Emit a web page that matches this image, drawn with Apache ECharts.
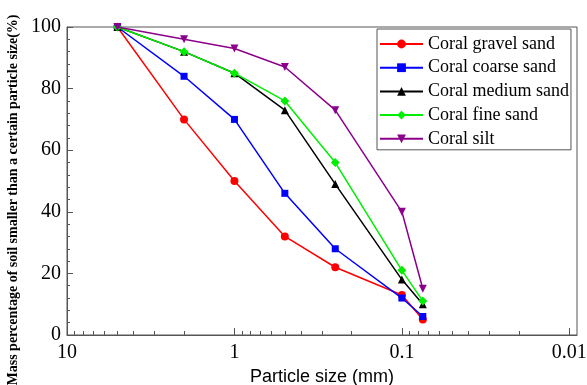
<!DOCTYPE html>
<html>
<head>
<meta charset="utf-8">
<script src="https://cdn.jsdelivr.net/npm/echarts@6/dist/echarts.min.js"></script>
<style>html,body{margin:0;padding:0;background:#fff;}#c{width:587px;height:385px;}</style>
</head>
<body>
<div id="c"></div>
<script>
const particleSizes = [5, 2, 1, 0.5, 0.25, 0.1, 0.075];
const gravelSand = [100, 70, 50, 32, 22, 13, 5];
const coarseSand = [100, 84, 70, 46, 28, 12, 6];
const mediumSand = [100, 92, 85, 73, 49, 18, 10];
const fineSand = [100, 92, 85, 76, 56, 21, 11];
const silt = [100, 96, 93, 87, 73, 40, 15];
const seriesNames = ['Coral gravel sand', 'Coral coarse sand', 'Coral medium sand', 'Coral fine sand', 'Coral silt'];
const xMajorTicks = [10, 1, 0.1, 0.01];
const xTickLabels = ['10', '1', '0.1', '0.01'];
const xMinorTicks = [9, 8, 7, 6, 5, 4, 3, 2, 0.9, 0.8, 0.7, 0.6, 0.5, 0.4, 0.3, 0.2, 0.09, 0.08, 0.07, 0.06, 0.05, 0.04, 0.03, 0.02];
const yTicks = [0, 20, 40, 60, 80, 100];

const serif = '"Liberation Serif", "Times New Roman", serif';
const pair = arr => particleSizes.map((s, i) => [s, arr[i]]);
const styles = [
  {color: '#ff0000', symbol: 'circle', size: 8, rot: 0},
  {color: '#0000ff', symbol: 'rect', size: 7, rot: 0},
  {color: '#000000', symbol: 'triangle', size: 8, rot: 0},
  {color: '#00ee00', symbol: 'diamond', size: 9, rot: 0},
  {color: '#8b008b', symbol: 'triangle', size: 8, rot: 180}
];
const allData = [gravelSand, coarseSand, mediumSand, fineSand, silt];

const chart = echarts.init(document.getElementById('c'), null, {renderer: 'canvas'});
chart.setOption({
  animation: false,
  backgroundColor: '#fff',
  grid: {left: 67, right: 10, top: 27, bottom: 50, show: true, borderColor: '#555', borderWidth: 1, backgroundColor: 'transparent', outerBoundsMode: 'none', containLabel: false},
  legend: {
    orient: 'vertical', left: 377, top: 29,
    padding: [6, 2, 2, 2], itemGap: 5.7, itemWidth: 43, itemHeight: 11,
    backgroundColor: '#fff', borderColor: '#555', borderWidth: 1,
    textStyle: {fontFamily: serif, fontSize: 18, color: '#000'},
    data: seriesNames
  },
  xAxis: [{
    type: 'log', logBase: 10, inverse: true, min: 0.009, max: 10,
    name: 'Particle size (mm)', nameLocation: 'middle', nameGap: 26,
    nameTextStyle: {fontFamily: '"Liberation Sans", Arial, sans-serif', fontSize: 18, color: '#000'},
    axisLine: {show: true, lineStyle: {color: '#555', width: 1}},
    axisTick: {show: true, inside: true, length: 7, customValues: xMajorTicks, lineStyle: {color: '#555'}},
    axisLabel: {show: true, customValues: xMajorTicks, fontFamily: serif, fontSize: 20, color: '#000', margin: 8,
      formatter: v => xTickLabels[xMajorTicks.findIndex(t => Math.abs(Math.log10(t) - Math.log10(v)) < 1e-6)] || ''},
    splitLine: {show: false}, minorTick: {show: false}
  }, {
    type: 'log', logBase: 10, inverse: true, min: 0.009, max: 10, position: 'bottom', offset: 0,
    axisLine: {show: false},
    axisTick: {show: true, inside: true, length: 4, customValues: xMinorTicks, lineStyle: {color: '#555'}},
    axisLabel: {show: false}, splitLine: {show: false}
  }],
  yAxis: {
    type: 'value', min: 0, max: 100, interval: 20,
    name: 'Mass percentage of soil smaller than a certain particle size(%)',
    nameLocation: 'middle', nameGap: 44,
    nameTextStyle: {fontFamily: serif, fontSize: 14, fontWeight: 'bold', color: '#000', padding: [0, 38, 0, 0]},
    axisLine: {show: true, lineStyle: {color: '#555', width: 1}},
    axisTick: {show: true, inside: true, length: 6, lineStyle: {color: '#555'}},
    minorTick: {show: true, splitNumber: 5, length: 3, lineStyle: {color: '#555'}},
    axisLabel: {fontFamily: serif, fontSize: 20, color: '#000', margin: 6},
    splitLine: {show: false}
  },
  series: seriesNames.map((n, i) => ({
    name: n, type: 'line', xAxisIndex: 0, data: pair(allData[i]),
    symbol: styles[i].symbol, symbolSize: styles[i].size, symbolRotate: styles[i].rot,
    showAllSymbol: true,
    lineStyle: {color: styles[i].color, width: 1.5},
    itemStyle: {color: styles[i].color},
    z: 2 + i
  }))
});
</script>
</body>
</html>
